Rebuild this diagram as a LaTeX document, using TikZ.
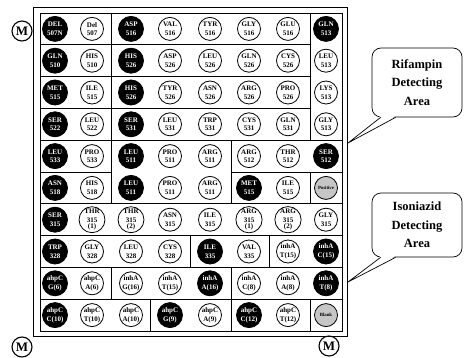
\documentclass[tikz,border=0pt]{standalone}
\usepackage{fontspec}
\setmainfont{Liberation Serif}
\usetikzlibrary{calc}

\begin{document}
\begin{tikzpicture}[
    x=1pt, y=-1pt,
    spot/.style={circle, draw, line width=0.8pt, minimum size=23pt, inner sep=0pt, align=center,
        font=\fontsize{7}{8.5}\selectfont\bfseries},
    wt/.style={spot, fill=black, text=white, minimum size=25pt},
    mut/.style={spot, fill=white},
    ctl/.style={spot, fill=gray!45, font=\fontsize{4.8}{5}\selectfont\bfseries},
    corner/.style={circle, draw, line width=1.1pt, minimum size=20pt, inner sep=0pt,
        font=\fontsize{13}{13}\selectfont\bfseries},
    note/.style={draw, rounded corners=9pt, fill=white, line width=0.7pt, align=center,
        minimum width=90pt, font=\fontsize{12.5}{18.5}\selectfont\bfseries},
    frame/.style={line width=0.8pt},
    box/.style={line width=0.9pt}
]
    \useasboundingbox (0,0) rectangle (465,358);

    % 外框
    \draw[frame] (33,7) rectangle (347,336);
    \draw[frame] (40,13) rectangle (342,331);

    % 分区线 (横)
    \draw[box] (40,44.8) -- (310,44.8);
    \draw[box] (40,76.6) -- (310,76.6);
    \draw[box] (40,108.4) -- (310,108.4);
    \draw[box] (40,140.2) -- (342,140.2);
    \draw[box] (40,172) -- (111,172);
    \draw[box] (231,172) -- (342,172);
    \draw[box] (40,203.8) -- (342,203.8);
    \draw[box] (40,235.6) -- (342,235.6);
    \draw[box] (40,267.4) -- (342,267.4);
    \draw[box] (40,299.2) -- (342,299.2);

    % 分区线 (竖)
    \draw[box] (111,13) -- (111,203.8);
    \draw[box] (310,13) -- (310,140.2);
    \draw[box] (231,140.2) -- (231,203.8);
    \draw[box] (310,172) -- (310,203.8);
    \draw[box] (190,235.6) -- (190,267.4);
    \draw[box] (269,235.6) -- (269,267.4);
    \draw[box] (111,267.4) -- (111,299.2);
    \draw[box] (231,267.4) -- (231,331);
    \draw[box] (150,299.2) -- (150,331);
    \draw[box] (310,299.2) -- (310,331);

    % 探针点 (Rifampin)
    \foreach \s/\a/\b [count=\c] in {wt/DEL/507N, mut/Del/507, wt/ASP/516, mut/VAL/516,
        mut/TYR/516, mut/GLY/516, mut/GLU/516, wt/GLN/513} {
        \pgfmathsetmacro{\cx}{{55,92,131,170,210,249,288,326}[\c-1]}
        \node[\s] (r1-\c) at (\cx,28.9) {\a\\\b};
    }
    \foreach \s/\a/\b [count=\c] in {wt/GLN/510, mut/HIS/510, wt/HIS/526, mut/ASP/526,
        mut/LEU/526, mut/GLN/526, mut/CYS/526, mut/LEU/513} {
        \pgfmathsetmacro{\cx}{{55,92,131,170,210,249,288,326}[\c-1]}
        \node[\s] (r2-\c) at (\cx,60.7) {\a\\\b};
    }
    \foreach \s/\a/\b [count=\c] in {wt/MET/515, mut/ILE/515, wt/HIS/526, mut/TYR/526,
        mut/ASN/526, mut/ARG/526, mut/PRO/526, mut/LYS/513} {
        \pgfmathsetmacro{\cx}{{55,92,131,170,210,249,288,326}[\c-1]}
        \node[\s] (r3-\c) at (\cx,92.5) {\a\\\b};
    }
    \foreach \s/\a/\b [count=\c] in {wt/SER/522, mut/LEU/522, wt/SER/531, mut/LEU/531,
        mut/TRP/531, mut/CYS/531, mut/GLN/531, mut/GLY/513} {
        \pgfmathsetmacro{\cx}{{55,92,131,170,210,249,288,326}[\c-1]}
        \node[\s] (r4-\c) at (\cx,124.3) {\a\\\b};
    }
    \foreach \s/\a/\b [count=\c] in {wt/LEU/533, mut/PRO/533, wt/LEU/511, mut/PRO/511,
        mut/ARG/511, mut/ARG/512, mut/THR/512, wt/SER/512} {
        \pgfmathsetmacro{\cx}{{55,92,131,170,210,249,288,326}[\c-1]}
        \node[\s] (r5-\c) at (\cx,156.1) {\a\\\b};
    }
    \foreach \s/\a/\b [count=\c] in {wt/ASN/518, mut/HIS/518, wt/LEU/511, mut/PRO/511,
        mut/ARG/511, wt/MET/515, mut/ILE/515} {
        \pgfmathsetmacro{\cx}{{55,92,131,170,210,249,288,326}[\c-1]}
        \node[\s] (r6-\c) at (\cx,187.9) {\a\\\b};
    }
    \node[ctl] (r6-8) at (326,187.9) {Positive};

    % 探针点 (Isoniazid)
    \foreach \s/\a/\b/\d [count=\c] in {wt/SER/315/{}, mut/THR/315/{\\[-2pt](1)},
        mut/THR/315/{\\[-2pt](2)}, mut/ASN/315/{}, mut/ILE/315/{}, mut/ARG/315/{\\[-2pt](1)},
        mut/ARG/315/{\\[-2pt](2)}, mut/GLY/315/{}} {
        \pgfmathsetmacro{\cx}{{55,92,131,170,210,249,288,326}[\c-1]}
        \node[\s] (r7-\c) at (\cx,219.7) {\a\\\b\d};
    }
    \foreach \s/\a/\b [count=\c] in {wt/TRP/328, mut/GLY/328, mut/LEU/328, mut/CYS/328,
        wt/ILE/335, mut/VAL/335, mut/inhA/T(15), wt/inhA/C(15)} {
        \pgfmathsetmacro{\cx}{{55,92,131,170,210,249,288,326}[\c-1]}
        \node[\s] (r8-\c) at (\cx,251.5) {\a\\\b};
    }
    \foreach \s/\a/\b [count=\c] in {wt/ahpC/G(6), mut/ahpC/A(6), mut/inhA/G(16), mut/inhA/T(15),
        wt/inhA/A(16), mut/inhA/C(8), mut/inhA/A(8), wt/inhA/T(8)} {
        \pgfmathsetmacro{\cx}{{55,92,131,170,210,249,288,326}[\c-1]}
        \node[\s] (r9-\c) at (\cx,283.3) {\a\\\b};
    }
    \foreach \s/\a/\b [count=\c] in {wt/ahpC/C(10), mut/ahpC/T(10), mut/ahpC/A(10), wt/ahpC/G(9),
        mut/ahpC/A(9), wt/ahpC/C(12), mut/ahpC/T(12)} {
        \pgfmathsetmacro{\cx}{{55,92,131,170,210,249,288,326}[\c-1]}
        \node[\s] (r10-\c) at (\cx,315.1) {\a\\\b};
    }
    \node[ctl] (r10-8) at (326,315.1) {Blank};

    % 定位标记 M
    \node[corner] (m1) at (22,31) {M};
    \node[corner] (m2) at (22,347) {M};
    \node[corner] (m3) at (329,346) {M};

    % 说明框
    \node[note, minimum height=69pt] (rif) at (417,82.5) {Rifampin\\Detecting\\Area};
    \node[note, minimum height=64pt] (inh) at (417,225) {Isoniazid\\Detecting\\Area};
    \coordinate (rifpt) at (348,143);
    \coordinate (inhpt) at (348,282);

    \fill[white] ($(rif.south west)+(9,-1.5)$) -- (rifpt) -- ($(rif.south west)+(24,-1.5)$) -- cycle;
    \draw[line width=0.7pt] ($(rif.south west)+(9,0)$) -- (rifpt) -- ($(rif.south west)+(24,0)$);
    \fill[white] ($(inh.south west)+(9,-1.5)$) -- (inhpt) -- ($(inh.south west)+(24,-1.5)$) -- cycle;
    \draw[line width=0.7pt] ($(inh.south west)+(9,0)$) -- (inhpt) -- ($(inh.south west)+(24,0)$);

\end{tikzpicture}
\end{document}
